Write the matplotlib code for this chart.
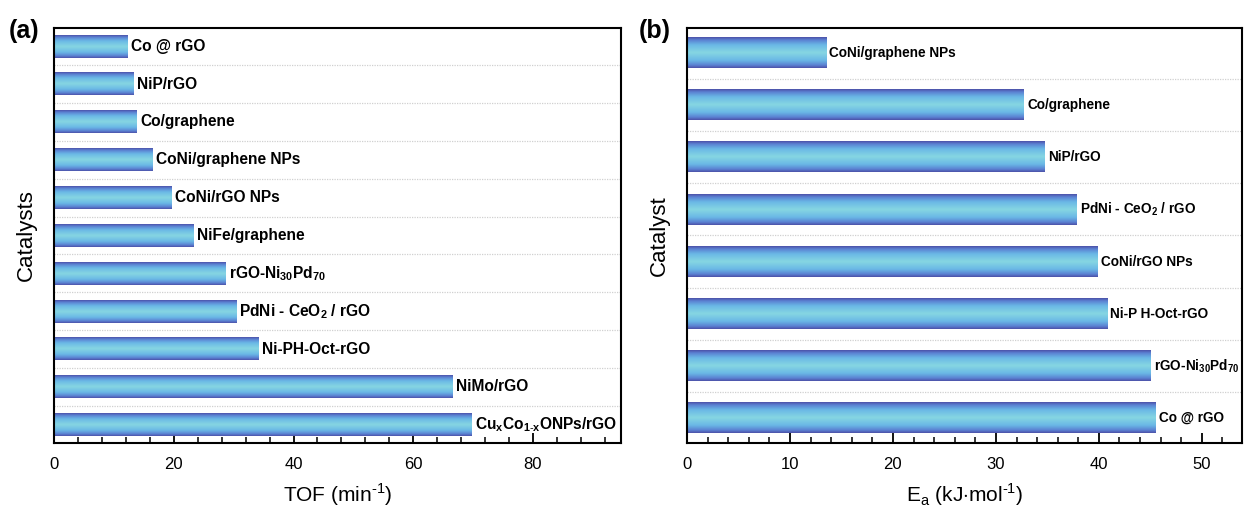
import numpy as np
import matplotlib
matplotlib.use("Agg")
import matplotlib.pyplot as plt
from matplotlib.colors import LinearSegmentedColormap
from matplotlib.ticker import MultipleLocator

plt.rcParams['font.family'] = ['Liberation Sans', 'DejaVu Sans']
plt.rcParams['mathtext.fontset'] = 'custom'
plt.rcParams['mathtext.rm'] = 'Liberation Sans'
plt.rcParams['mathtext.bf'] = 'Liberation Sans:bold'

# Panel (a) data: top to bottom
cats_a = ["Co @ rGO", "NiP/rGO", "Co/graphene", "CoNi/graphene NPs", "CoNi/rGO NPs",
          "NiFe/graphene", r"rGO-Ni$_{\mathbf{30}}$Pd$_{\mathbf{70}}$",
          r"PdNi - CeO$_{\mathbf{2}}$ / rGO", "Ni-PH-Oct-rGO", "NiMo/rGO",
          r"Cu$_{\mathbf{x}}$Co$_{\mathbf{1\text{-}x}}$ONPs/rGO"]
tof_a = [12.3, 13.3, 13.8, 16.4, 19.6, 23.3, 28.7, 30.4, 34.1, 66.5, 69.8]

# Panel (b) data: top to bottom
cats_b = ["CoNi/graphene NPs", "Co/graphene", "NiP/rGO",
          r"PdNi - CeO$_{\mathbf{2}}$ / rGO", "CoNi/rGO NPs", "Ni-P H-Oct-rGO",
          r"rGO-Ni$_{\mathbf{30}}$Pd$_{\mathbf{70}}$", "Co @ rGO"]
ea_b = [13.5, 32.7, 34.7, 37.8, 39.9, 40.8, 45.0, 45.5]

cmap = LinearSegmentedColormap.from_list(
    "bar", [(0.0, "#4c4fa6"), (0.09, "#5a80d2"), (0.25, "#6ab8e6"),
            (0.5, "#86d6e2"), (0.75, "#6ab8e6"), (0.91, "#5a80d2"), (1.0, "#4c4fa6")])
grad = np.linspace(0, 1, 256).reshape(-1, 1)

fig = plt.figure(figsize=(12.45, 5.09), dpi=100)
ax_a = fig.add_axes([0.0434, 0.1297, 0.4554, 0.8153])
ax_b = fig.add_axes([0.5518, 0.1297, 0.4458, 0.8153])


def draw(ax, cats, vals, xmax, major, minor, fs, ylabel, xlabel, height):
    n = len(cats)
    y = np.arange(n)[::-1]
    bars = ax.barh(y, vals, height=height, color='none', edgecolor='none')
    for b, lab in zip(bars, cats):
        x0, y0, w, h = b.get_x(), b.get_y(), b.get_width(), b.get_height()
        ax.imshow(grad, cmap=cmap, extent=[x0, x0 + w, y0, y0 + h],
                  aspect='auto', origin='lower', zorder=2, interpolation='bicubic')
        ax.text(x0 + w + xmax * 0.006, y0 + h / 2, lab, ha='left', va='center',
                fontsize=fs, fontweight='bold', zorder=3)
    for k in range(n - 1):
        ax.axhline(k + 0.5, color='#d0d0d0', lw=0.9, ls=(0, (1, 1)), zorder=1)
    ax.set_xlim(0, xmax)
    ax.set_ylim(-0.48, n - 0.52)
    ax.set_yticks([])
    ax.xaxis.set_major_locator(MultipleLocator(major))
    ax.xaxis.set_minor_locator(MultipleLocator(minor))
    ax.tick_params(axis='x', which='major', direction='in', length=7, width=1.3,
                   labelsize=12, pad=10)
    ax.tick_params(axis='x', which='minor', direction='in', length=4, width=1.1)
    ax.tick_params(axis='x', top=False)
    for s in ax.spines.values():
        s.set_linewidth(1.5)
    ax.set_ylabel(ylabel, fontsize=16, labelpad=12)
    ax.set_xlabel(xlabel, fontsize=15, labelpad=7)


draw(ax_a, cats_a, tof_a, 94.7, 20, 4, 11.2, "Catalysts",
     r"TOF (min$^{\mathregular{\text{-}1}}$)", 0.6)
draw(ax_b, cats_b, ea_b, 53.9, 10, 2, 9.8, "Catalyst",
     r"E$_{\mathregular{a}}$ (kJ$\cdot$mol$^{\mathregular{\text{-}1}}$)", 0.58)

fig.text(0.007, 0.925, "(a)", fontsize=18, fontweight='bold')
fig.text(0.513, 0.925, "(b)", fontsize=18, fontweight='bold')

fig.savefig("out.png", dpi=100)
